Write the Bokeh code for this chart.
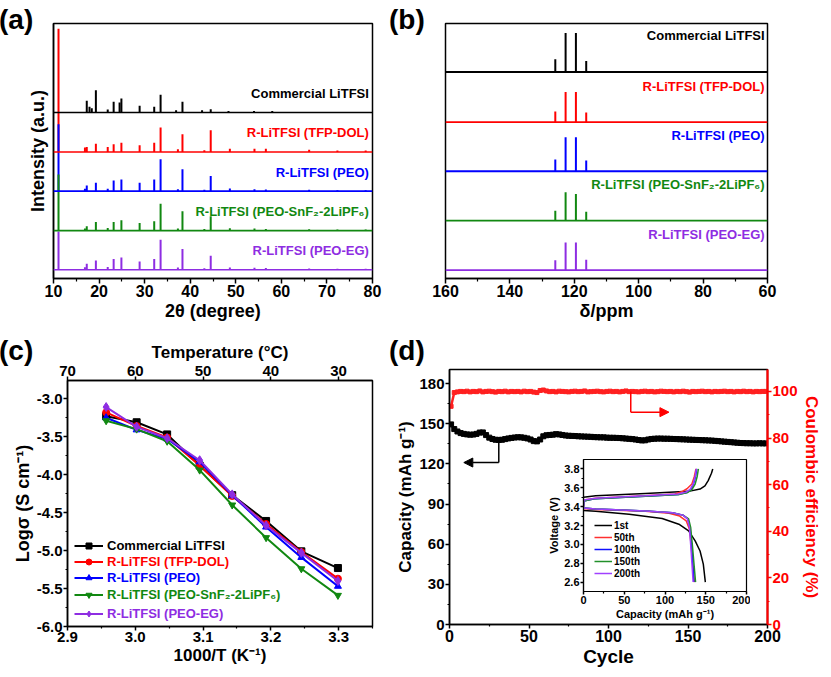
from bokeh.plotting import figure
from bokeh.models import (Range1d, LinearAxis, FixedTicker, Span, Label, Legend, LegendItem,
                          Arrow, NormalHead, GridBox, Div, PrintfTickFormatter)
from bokeh.embed import file_html
from bokeh.resources import INLINE

FONT = "Liberation Sans"
COLORS = ["#000000", "#ff0000", "#0000ff", "#118811", "#8e2de2"]
NAMES = ["Commercial LiTFSI", "R-LiTFSI (TFP-DOL)", "R-LiTFSI (PEO)",
         "R-LiTFSI (PEO-SnF\u2082-2LiPF\u2086)", "R-LiTFSI (PEO-EG)"]

# ---------------- (a) XRD data: peak positions (2theta) and heights (a.u.) ----------------
xrd_offsets = [165.3, 126.0, 87.0, 47.7, 8.7]
xrd_pos_commercial = [17.3, 17.9, 18.4, 19.3, 21.9, 23.2, 24.5, 24.9, 28.9, 32.1, 33.5, 36.9, 38.3, 42.6, 44.5, 48.4, 54.0, 58.0]
xrd_h_commercial = [11.7, 5.7, 4.3, 22.3, 3.0, 10.7, 10.0, 14.0, 6.7, 5.7, 17.7, 2.3, 10.7, 2.3, 3.3, 1.5, 1.5, 1.5]
xrd_pos_r = [11.1, 16.9, 17.3, 19.3, 21.9, 23.2, 24.9, 28.9, 32.1, 33.5, 37.3, 38.3, 43.1, 44.5, 48.7, 54.1, 56.6, 66.1, 72.3, 78.5]
xrd_h_tfp = [122.7, 4.5, 5.0, 8.3, 5.0, 7.7, 9.3, 6.7, 9.3, 24.3, 2.7, 17.7, 1.7, 21.7, 3.3, 3.3, 3.3, 2.3, 1.5, 1.5]
xrd_h_peo = [66.7, 2.5, 5.7, 8.3, 2.3, 10.7, 11.7, 8.3, 11.7, 31.7, 2.0, 21.7, 1.5, 15.0, 2.7, 2.0, 1.7, 1.3, 1.0, 1.0]
xrd_h_sn = [56.0, 2.0, 4.3, 8.7, 2.7, 8.7, 10.3, 7.7, 9.3, 26.7, 2.0, 19.3, 1.5, 14.3, 2.3, 2.0, 1.7, 1.3, 1.0, 1.0]
xrd_h_eg = [38.0, 2.5, 6.0, 9.3, 2.7, 10.7, 12.3, 8.3, 10.7, 30.0, 2.3, 20.7, 1.5, 14.0, 2.3, 2.0, 1.7, 1.3, 1.0, 1.0]
xrd_series = [(xrd_pos_commercial, xrd_h_commercial), (xrd_pos_r, xrd_h_tfp), (xrd_pos_r, xrd_h_peo),
              (xrd_pos_r, xrd_h_sn), (xrd_pos_r, xrd_h_eg)]
a_xticks = [10, 20, 30, 40, 50, 60, 70, 80]

# ---------------- (b) 13C NMR data ----------------
nmr_offsets = [206.0, 156.0, 107.0, 57.7, 8.3]
nmr_pos = [125.9, 122.7, 119.5, 116.3]
nmr_h_commercial = [12.7, 39.0, 39.0, 11.0]
nmr_h_tfp = [10.7, 30.0, 30.0, 9.7]
nmr_h_peo = [11.7, 34.0, 34.0, 10.7]
nmr_h_sn = [10.0, 28.3, 26.7, 9.0]
nmr_h_eg = [10.0, 27.7, 27.7, 10.3]
nmr_series = [nmr_h_commercial, nmr_h_tfp, nmr_h_peo, nmr_h_sn, nmr_h_eg]
b_xticks = [160, 140, 120, 100, 80, 60]

# ---------------- (c) conductivity ----------------
c_x = [2.957, 3.002, 3.047, 3.095, 3.143, 3.193, 3.245, 3.299]
c_commercial = [-3.23, -3.31, -3.47, -3.88, -4.27, -4.61, -5.01, -5.23]
c_tfp = [-3.18, -3.36, -3.51, -3.88, -4.28, -4.65, -5.02, -5.37]
c_peo = [-3.25, -3.41, -3.53, -3.83, -4.27, -4.69, -5.09, -5.47]
c_sn = [-3.29, -3.40, -3.56, -3.94, -4.40, -4.83, -5.24, -5.59]
c_eg = [-3.11, -3.37, -3.52, -3.81, -4.26, -4.67, -5.03, -5.40]
c_series = [c_commercial, c_tfp, c_peo, c_sn, c_eg]
c_markers = ["square", "circle", "triangle", "inverted_triangle", "diamond"]
c_xticks = [2.9, 3.0, 3.1, 3.2, 3.3]
c_temp_labels = ["70", "60", "50", "40", "30"]
c_yticks = [-6.0, -5.5, -5.0, -4.5, -4.0, -3.5, -3.0]

# ---------------- (d) cycling ----------------
cycles = list(range(1, 201, 2))
capacity = [149.5, 146.0, 144.2, 143.0, 142.4,
            142.0, 141.8, 141.9, 142.4, 143.4,
            143.5, 141.5, 139.6, 138.6, 138.0,
            137.9, 138.0, 138.5, 139.0, 139.4,
            139.7, 139.9, 139.8, 139.5, 139.0,
            138.2, 137.0, 136.8, 138.2, 140.6,
            141.4, 141.6, 141.8, 142.2, 142.0,
            141.6, 141.2, 141.0, 140.9, 140.8,
            140.6, 140.5, 140.4, 140.3, 140.2,
            140.0, 139.9, 139.8, 139.8, 139.6,
            139.5, 139.5, 139.4, 139.3, 139.1,
            138.9, 138.7, 138.5, 138.2, 137.8,
            137.5, 137.6, 138.2, 138.6, 138.8,
            138.9, 138.9, 138.8, 138.8, 138.7,
            138.6, 138.5, 138.4, 138.3, 138.2,
            138.1, 138.0, 137.9, 137.8, 137.7,
            137.6, 137.5, 137.4, 137.2, 137.0,
            136.8, 136.6, 136.4, 136.2, 136.0,
            135.8, 135.6, 135.5, 135.4, 135.4,
            135.3, 135.3, 135.4, 135.3, 135.3]
coulombic = [93.6, 99.5, 99.8, 100.0, 99.9, 100.1, 99.8, 100.0, 99.9, 100.2,
             99.8, 100.0, 100.1, 99.9, 99.7, 100.0, 99.9, 100.1, 99.8, 100.0,
             99.9, 100.0, 99.8, 100.1, 99.9, 100.0, 99.7, 99.5, 100.4, 100.6,
             100.2, 99.9, 100.0, 99.8, 100.1, 100.0, 99.9, 99.8, 100.0, 100.1,
             99.9, 100.0, 100.2, 99.8, 99.9, 100.0, 100.1, 99.9, 99.8, 100.0,
             100.1, 99.9, 100.0, 99.8, 100.0, 100.2, 99.9, 100.0, 99.9, 99.8,
             100.0, 100.1, 99.9, 100.0, 99.8, 99.9, 100.1, 100.0, 99.9, 100.0,
             99.8, 100.0, 99.9, 100.1, 99.9, 99.7, 100.0, 99.9, 100.0, 100.1,
             99.9, 100.0, 99.8, 100.0, 99.9, 100.0, 100.1, 99.9, 100.0, 99.8,
             100.0, 99.9, 100.1, 99.9, 100.0, 99.8, 100.0, 99.9, 100.0, 100.0]
cap_arrow = [(31, 137.9), (31, 121.0), (9, 121.0)]
ce_arrow = [(114, 100.0), (114, 91.1), (138, 91.1)]

# inset voltage profiles
inset_labels = ["1st", "50th", "100th", "150th", "200th"]
inset_colors = ["#000000", "#ff3030", "#1010ff", "#22902a", "#a040ff"]
chg_cap = [[0, 15, 76, 129, 143, 149, 153, 157, 158.6],
           [0, 0.5, 15, 76, 112, 121, 127, 133, 136, 138],
           [0, 0.5, 15, 76, 117, 127, 132, 135, 137.5, 139],
           [0, 0.5, 15, 76, 118, 128, 133, 137, 139.5, 141],
           [0, 0.5, 15, 76, 116, 126, 131, 134.5, 137, 138.5]]
chg_v = [[3.50, 3.515, 3.54, 3.562, 3.587, 3.62, 3.676, 3.754, 3.80],
         [3.40, 3.47, 3.49, 3.515, 3.535, 3.56, 3.59, 3.64, 3.72, 3.80],
         [3.40, 3.46, 3.485, 3.51, 3.53, 3.55, 3.58, 3.64, 3.72, 3.80],
         [3.40, 3.46, 3.485, 3.51, 3.53, 3.55, 3.58, 3.64, 3.72, 3.80],
         [3.40, 3.47, 3.49, 3.515, 3.535, 3.555, 3.585, 3.64, 3.72, 3.80]]
dis_cap = [[0, 15, 56, 96.5, 117, 129, 137, 143, 147, 149.5],
           [0, 15, 76, 105, 118, 126, 130, 132, 134, 136],
           [0, 15, 76, 109, 122, 128, 130.5, 132.5, 134, 135.5],
           [0, 15, 76, 109, 122, 129, 131.5, 133.5, 135.5, 137.5],
           [0, 15, 76, 109, 122, 127.5, 130, 131.5, 133, 134.5]]
dis_v = [[3.36, 3.35, 3.32, 3.275, 3.214, 3.143, 3.037, 2.93, 2.79, 2.60],
         [3.38, 3.37, 3.35, 3.33, 3.30, 3.25, 3.16, 3.00, 2.80, 2.60],
         [3.385, 3.375, 3.355, 3.335, 3.31, 3.27, 3.18, 3.00, 2.80, 2.60],
         [3.385, 3.375, 3.355, 3.335, 3.31, 3.27, 3.18, 3.00, 2.80, 2.60],
         [3.385, 3.375, 3.355, 3.335, 3.31, 3.27, 3.18, 3.00, 2.80, 2.60]]


def make_fig(w, h, xr, yr, bl, br, bt, bb):
    p = figure(width=w, height=h, x_range=xr, y_range=yr, output_backend="svg",
               toolbar_location=None, min_border_left=bl, min_border_right=br,
               min_border_top=bt, min_border_bottom=bb)
    p.xgrid.visible = False
    p.ygrid.visible = False
    p.outline_line_color = "black"
    p.outline_line_width = 1.5
    p.outline_line_alpha = 1.0
    p.background_fill_color = "white"
    p.border_fill_color = "white"
    return p


def style_axis(ax, tick="15px", lab="18px", color="black", tout=5, lw=1.5):
    ax.axis_line_color = color
    ax.axis_line_width = lw
    ax.major_tick_line_color = color
    ax.minor_tick_line_color = color
    ax.major_tick_line_width = 1.5
    ax.minor_tick_line_width = 1.2
    ax.major_tick_in = 0
    ax.major_tick_out = tout
    ax.minor_tick_in = 0
    ax.minor_tick_out = max(2, tout - 2)
    ax.major_label_text_font = FONT
    ax.major_label_text_font_style = "bold"
    ax.major_label_text_font_size = tick
    ax.major_label_text_color = color
    ax.axis_label_text_font = FONT
    ax.axis_label_text_font_style = "bold"
    ax.axis_label_text_font_size = lab
    ax.axis_label_text_color = color
    ax.major_label_standoff = 1
    ax.axis_label_standoff = 1


def panel_div(text, pad_top, shift_left):
    return Div(text=("<div style=\"font-family:'Liberation Sans',Arial,sans-serif;font-weight:bold;"
                     "font-size:28px;line-height:30px;margin:0 0 0 -%dpx;padding-top:%dpx;"
                     "color:#000;white-space:nowrap\">%s</div>") % (shift_left, pad_top, text),
               width=50, height=40)


# ================= (a) =================
pa = make_fig(388, 322, Range1d(10, 80), Range1d(0, 254), 53, 16, 15, 52)
pa.xaxis.ticker = FixedTicker(ticks=a_xticks, minor_ticks=[t + 5 for t in a_xticks[:-1]])
pa.xaxis.axis_label = "2\u03b8 (degree)"
style_axis(pa.xaxis[0], tick="16px")
pa.yaxis.ticker = FixedTicker(ticks=[])
pa.yaxis.axis_label = "Intensity (a.u.)"
style_axis(pa.yaxis[0])
pa.yaxis.major_label_text_font_size = "0px"
pa.yaxis.major_tick_out = 0
pa.yaxis.minor_tick_out = 0
pa.yaxis.axis_label_standoff = 6
for (pos, hts), off, col, name in zip(xrd_series, xrd_offsets, COLORS, NAMES):
    pa.add_layout(Span(location=off, dimension="width", line_color=col, line_width=1.6))
    pa.segment(x0=pos, y0=[off] * len(pos), x1=pos, y1=[off + h for h in hts],
               line_color=col, line_width=2)
    pa.add_layout(Label(x=79.2, y=off + 19, text=name, text_align="right", text_baseline="middle",
                        text_color=col, text_font=FONT, text_font_style="bold", text_font_size="13px"))

# ================= (b) =================
pb = make_fig(435, 322, Range1d(160, 60), Range1d(0, 254.4), 57, 55, 15, 52)
pb.xaxis.ticker = FixedTicker(ticks=b_xticks, minor_ticks=[150, 130, 110, 90, 70])
pb.xaxis.axis_label = "\u03b4/ppm"
style_axis(pb.xaxis[0], tick="16px")
pb.yaxis.visible = False
for hts, off, col, name in zip(nmr_series, nmr_offsets, COLORS, NAMES):
    pb.add_layout(Span(location=off, dimension="width", line_color=col, line_width=1.8))
    pb.segment(x0=nmr_pos, y0=[off] * len(nmr_pos), x1=nmr_pos, y1=[off + h for h in hts],
               line_color=col, line_width=2)
    pb.add_layout(Label(x=60.9, y=off + 36, text=name, text_align="right", text_baseline="middle",
                        text_color=col, text_font=FONT, text_font_style="bold", text_font_size="13px"))

# ================= (c) =================
pc = make_fig(380, 344, Range1d(2.9, 3.35), Range1d(-6.0, -2.76), 59, 15, 50, 48)
pc.xaxis.ticker = FixedTicker(ticks=c_xticks, minor_ticks=[2.95, 3.05, 3.15, 3.25, 3.35])
pc.xaxis.formatter = PrintfTickFormatter(format="%.1f")
pc.xaxis.axis_label = "1000/T (K\u207b\u00b9)"
style_axis(pc.xaxis[0], tick="15px", lab="17px", tout=4)
pc.yaxis.ticker = FixedTicker(ticks=c_yticks, minor_ticks=[-5.75, -5.25, -4.75, -4.25, -3.75, -3.25, -2.75])
pc.yaxis.formatter = PrintfTickFormatter(format="%.1f")
pc.yaxis.axis_label = "Log\u03c3 (S cm\u207b\u00b9)"
style_axis(pc.yaxis[0], tick="15px", lab="18px", tout=4)
top = LinearAxis(ticker=FixedTicker(ticks=c_xticks),
                 major_label_overrides={t: l for t, l in zip(c_xticks, c_temp_labels)},
                 axis_label="Temperature (\u00b0C)")
style_axis(top, tick="15px", lab="17px", tout=4)
pc.add_layout(top, "above")
c_leg_y = [73.5, 56.8, 40.8, 24.2, 5.2]
for ys, col, mk, name, ly in zip(c_series, COLORS, c_markers, NAMES, c_leg_y):
    r1 = pc.line(c_x, ys, line_color=col, line_width=2)
    msize = 9 if mk == "diamond" else 7
    r2 = pc.scatter(c_x, ys, marker=mk, size=msize, fill_color=col, line_color=col)
    leg = Legend(items=[LegendItem(label=name, renderers=[r1, r2])], location=(7, ly),
                 padding=0, margin=0, spacing=0, label_standoff=4, glyph_width=29,
                 glyph_height=15, label_height=15, label_text_font=FONT,
                 label_text_font_style="bold", label_text_font_size="13px",
                 label_text_color=col, background_fill_alpha=0, border_line_alpha=0)
    pc.add_layout(leg)

# ================= (d) =================
pd = make_fig(433, 338, Range1d(0, 200), Range1d(0, 190.5), 59, 56, 35, 48)
pd.extra_y_ranges = {"ce": Range1d(0, 109.4)}
pd.xaxis.ticker = FixedTicker(ticks=[0, 50, 100, 150, 200], minor_ticks=[25, 75, 125, 175])
pd.xaxis.axis_label = "Cycle"
style_axis(pd.xaxis[0], tick="16px", lab="19px", tout=4)
pd.yaxis.ticker = FixedTicker(ticks=[0, 30, 60, 90, 120, 150, 180],
                              minor_ticks=[15, 45, 75, 105, 135, 165])
pd.yaxis.axis_label = "Capacity (mAh g\u207b\u00b9)"
style_axis(pd.yaxis[0], tick="15px", lab="17px", tout=4)
rax = LinearAxis(y_range_name="ce", ticker=FixedTicker(ticks=[0, 20, 40, 60, 80, 100],
                 minor_ticks=[10, 30, 50, 70, 90]), axis_label="Coulombic efficiency (%)")
style_axis(rax, tick="15px", lab="17px", color="#ff0000", tout=4, lw=2.2)
pd.add_layout(rax, "right")
pd.line(cycles, coulombic, y_range_name="ce", line_color="#ff2020", line_width=2.5)
pd.scatter(cycles, coulombic, y_range_name="ce", marker="square", size=4,
           fill_color="#ff2020", line_color="#ff2020")
pd.line(cycles, capacity, line_color="black", line_width=2.5)
pd.scatter(cycles, capacity, marker="square", size=5, fill_color="black", line_color="black")
pd.line([p[0] for p in cap_arrow[:2]], [p[1] for p in cap_arrow[:2]], line_color="black", line_width=1.5)
pd.add_layout(Arrow(end=NormalHead(size=9, fill_color="black", line_color="black"),
                    x_start=cap_arrow[1][0], y_start=cap_arrow[1][1],
                    x_end=cap_arrow[2][0], y_end=cap_arrow[2][1],
                    line_color="black", line_width=1.5))
pd.line([p[0] for p in ce_arrow[:2]], [p[1] for p in ce_arrow[:2]], y_range_name="ce",
        line_color="#ff0000", line_width=1.5)
pd.add_layout(Arrow(end=NormalHead(size=9, fill_color="#ff0000", line_color="#ff0000"),
                    x_start=ce_arrow[1][0], y_start=ce_arrow[1][1],
                    x_end=ce_arrow[2][0], y_end=ce_arrow[2][1], y_range_name="ce",
                    line_color="#ff0000", line_width=1.5))

# ================= inset =================
pin = make_fig(205, 167, Range1d(0, 200), Range1d(2.5, 3.9), 36, 4, 4, 31)
pin.border_fill_alpha = 0
pin.outline_line_width = 1.2
pin.xaxis.ticker = FixedTicker(ticks=[0, 50, 100, 150, 200], minor_ticks=[25, 75, 125, 175])
pin.xaxis.axis_label = "Capacity (mAh g\u207b\u00b9)"
style_axis(pin.xaxis[0], tick="11px", lab="11px", tout=3, lw=1.2)
pin.yaxis.ticker = FixedTicker(ticks=[2.6, 2.8, 3.0, 3.2, 3.4, 3.6, 3.8],
                               minor_ticks=[2.7, 2.9, 3.1, 3.3, 3.5, 3.7])
pin.yaxis.formatter = PrintfTickFormatter(format="%.1f")
pin.yaxis.axis_label = "Voltage (V)"
style_axis(pin.yaxis[0], tick="11px", lab="11px", tout=3, lw=1.2)
items = []
for i in range(5):
    col = inset_colors[i]
    r1 = pin.line(chg_cap[i], chg_v[i], line_color=col, line_width=1.5)
    pin.line(dis_cap[i], dis_v[i], line_color=col, line_width=1.5)
    items.append(LegendItem(label=inset_labels[i], renderers=[r1]))
pin.add_layout(Legend(items=items, location=(11, 11.7), padding=0, margin=0, spacing=0,
                      label_standoff=2, glyph_width=18, glyph_height=12, label_height=12,
                      label_text_font=FONT, label_text_font_style="bold",
                      label_text_font_size="10px", label_text_color="black",
                      background_fill_alpha=0, border_line_alpha=0))

# panel letters (drawn last so they sit on top)
da = panel_div("(a)", 0, 6)
db = panel_div("(b)", 0, 4)
dc = panel_div("(c)", 1, 6)
dd = panel_div("(d)", 1, 4)

# grid tracks: rows 0..6 / cols 0..5 (pixel tracks of the page)
grid = GridBox(children=[(pa, 1, 0, 1, 2), (pb, 1, 2, 1, 4), (pc, 2, 1, 5, 1),
                         (pd, 3, 3, 3, 3), (pin, 4, 4, 1, 1),
                         (da, 0, 0, 2, 2), (db, 0, 2, 2, 2), (dc, 2, 0, 2, 2), (dd, 2, 2, 2, 2)],
               rows=["8px", "322px", "4px", "121px", "167px", "50px", "2px"],
               cols=["8px", "380px", "2px", "155px", "205px", "73px"], spacing=0)

with open("out.html", "w", encoding="utf-8") as f:
    f.write(file_html(grid, INLINE))
